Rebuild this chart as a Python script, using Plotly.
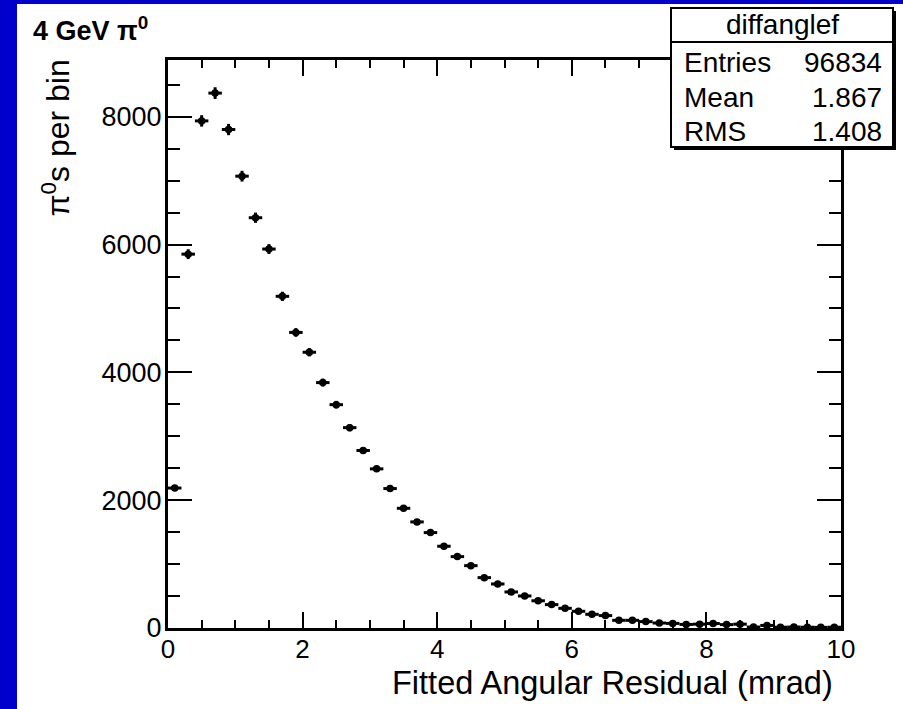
import numpy as np
import plotly.graph_objects as go

# ---- data ----
bin_centers = [0.1, 0.3, 0.5, 0.7, 0.9, 1.1, 1.3, 1.5, 1.7, 1.9,
               2.1, 2.3, 2.5, 2.7, 2.9, 3.1, 3.3, 3.5, 3.7, 3.9,
               4.1, 4.3, 4.5, 4.7, 4.9, 5.1, 5.3, 5.5, 5.7, 5.9,
               6.1, 6.3, 6.5, 6.7, 6.9, 7.1, 7.3, 7.5, 7.7, 7.9,
               8.1, 8.3, 8.5, 8.7, 8.9, 9.1, 9.3, 9.5, 9.7, 9.9]
counts = [2190, 5850, 7935, 8370, 7800, 7070, 6420, 5930, 5190, 4625,
          4315, 3840, 3495, 3135, 2778, 2490, 2182, 1873, 1660, 1493,
          1279, 1117, 976, 788, 689, 564, 501, 426, 366, 308,
          261, 214, 194, 120, 120, 100, 78, 72, 56, 60,
          70, 53, 60, 15, 40, 12, 15, 12, 10, 12]
bin_half_width = 0.1
x_ticks = [0, 2, 4, 6, 8, 10]
y_ticks = [0, 2000, 4000, 6000, 8000]
title_text = "<b>4 GeV π<sup>0</sup></b>"
x_title = "Fitted Angular Residual (mrad)"
y_title = "π<sup>0</sup>s per bin"
stat_name = "diffanglef"
stat_labels = ["Entries", "Mean", "RMS"]
stat_values = ["96834", "1.867", "1.408"]

# ---- geometry (pixels) ----
W, H = 903, 709
L, R, T, B = 168, 62, 60, 81
PW, PH = W - L - R, H - T - B


def px(xp):
    return (xp - L) / PW


def py(yp):
    return (H - B - yp) / PH


FONT = "Liberation Sans, Arial, Helvetica, sans-serif"
BLUE = "#0000CC"

fig = go.Figure()
fig.add_trace(go.Scatter(
    x=bin_centers, y=counts, mode="markers",
    marker=dict(symbol="circle", size=7.5, color="black"),
    error_x=dict(type="constant", value=bin_half_width, color="black",
                 thickness=3, width=0),
    error_y=dict(type="data", array=list(np.sqrt(counts)), color="black",
                 thickness=3, width=0),
    showlegend=False, cliponaxis=False, hoverinfo="skip",
))

shapes = [
    # white panel on blue background
    dict(type="rect", xref="paper", yref="paper", layer="below",
         x0=px(17), x1=px(W + 5), y0=py(H + 5), y1=py(4),
         fillcolor="white", line=dict(width=0)),
    # stat box shadow
    dict(type="rect", xref="paper", yref="paper", layer="above",
         x0=px(674), x1=px(896), y0=py(150), y1=py(11),
         fillcolor="black", line=dict(width=0)),
    # stat box
    dict(type="rect", xref="paper", yref="paper", layer="above",
         x0=px(671), x1=px(893), y0=py(147), y1=py(8),
         fillcolor="white", line=dict(color="black", width=2)),
    dict(type="line", xref="paper", yref="paper", layer="above",
         x0=px(671), x1=px(893), y0=py(42), y1=py(42),
         line=dict(color="black", width=2)),
]

annotations = [
    dict(text=title_text, x=px(31), y=py(29), xanchor="left", yanchor="middle",
         font=dict(size=27, family=FONT, color="black")),
    dict(text=x_title, x=px(835), y=py(683), xanchor="right", yanchor="middle",
         font=dict(size=32.5, family=FONT, color="black")),
    dict(text=y_title, x=px(56), y=py(58), xanchor="center", yanchor="top",
         textangle=-90, font=dict(size=32, family=FONT, color="black")),
    dict(text=stat_name, x=px(782), y=py(25), xanchor="center", yanchor="middle",
         font=dict(size=28, family=FONT, color="black")),
]
row_y = [62, 97.5, 131]
for lab, val, yy in zip(stat_labels, stat_values, row_y):
    annotations.append(dict(text=lab, x=px(682), y=py(yy), xanchor="left",
                            yanchor="middle",
                            font=dict(size=28, family=FONT, color="black")))
    annotations.append(dict(text=val, x=px(884), y=py(yy), xanchor="right",
                            yanchor="middle",
                            font=dict(size=28, family=FONT, color="black")))
for a in annotations:
    a.update(xref="paper", yref="paper", showarrow=False)

fig.update_layout(
    width=W, height=H,
    margin=dict(l=L, r=R, t=T, b=B, pad=0),
    paper_bgcolor=BLUE, plot_bgcolor="white",
    shapes=shapes, annotations=annotations,
    font=dict(family=FONT, color="black"),
    hovermode=False,
    xaxis=dict(range=[0, 10], tickvals=x_ticks, ticktext=[str(v) for v in x_ticks],
               ticks="inside", ticklen=16, tickwidth=1.5, tickcolor="black",
               minor=dict(ticks="inside", dtick=0.5, ticklen=8, tickwidth=1.5,
                          tickcolor="black", showgrid=False),
               showline=True, linewidth=3, linecolor="black", mirror="ticks",
               showgrid=False, zeroline=False, ticklabelstandoff=-4,
               tickfont=dict(size=26, family=FONT, color="black")),
    yaxis=dict(range=[0, 8888], tickvals=y_ticks, ticktext=[str(v) for v in y_ticks],
               ticks="inside", ticklen=24, tickwidth=1.5, tickcolor="black",
               minor=dict(ticks="inside", dtick=500, ticklen=12, tickwidth=1.5,
                          tickcolor="black", showgrid=False),
               showline=True, linewidth=3, linecolor="black", mirror="ticks",
               showgrid=False, zeroline=False, ticklabelstandoff=-2,
               tickfont=dict(size=27, family=FONT, color="black")),
)

fig.write_html(
    "out.html",
    config={"displayModeBar": False},
    post_script="document.body.style.margin='0';document.body.style.overflow='hidden';",
)
